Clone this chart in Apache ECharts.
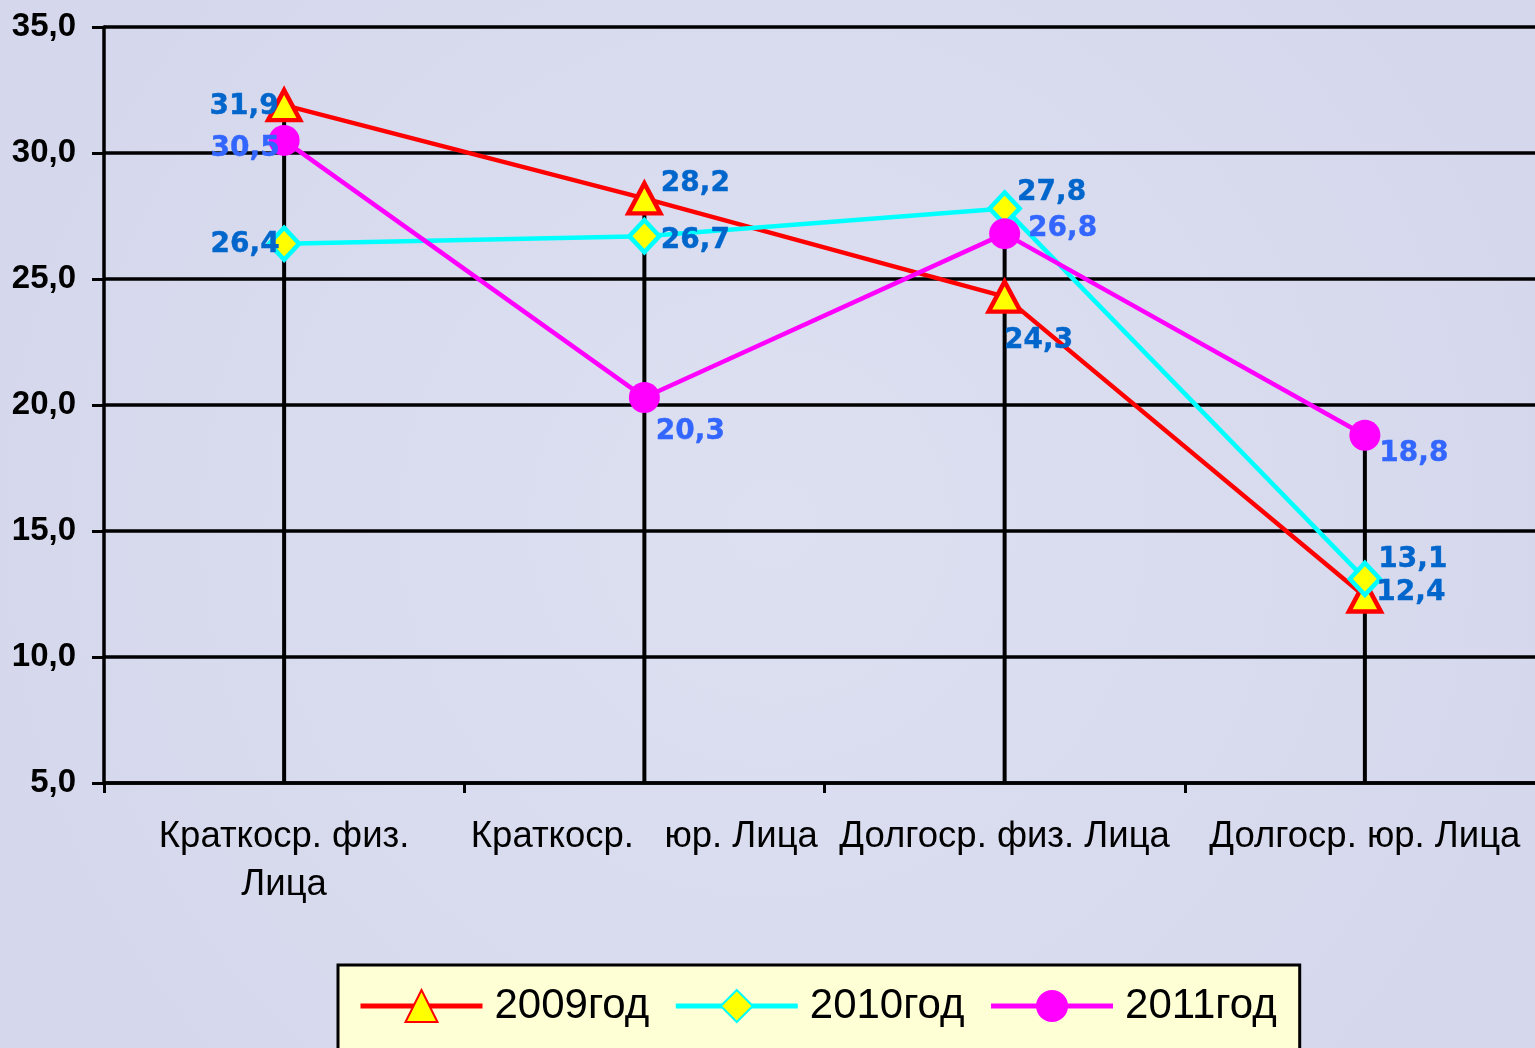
<!DOCTYPE html>
<html>
<head>
<meta charset="utf-8">
<script src="https://cdn.jsdelivr.net/npm/echarts@6/dist/echarts.min.js"></script>
<style>
html,body{margin:0;padding:0;background:#d9dcef;overflow:hidden;}
#c{width:1545px;height:1048px;}
</style>
</head>
<body>
<div id="c"></div>
<script>
const categories = ['Краткоср. физ.\nЛица', 'Краткоср.   юр. Лица', 'Долгоср. физ. Лица', 'Долгоср. юр. Лица'];
const seriesNames = ['2009год', '2010год', '2011год'];
const values2009 = [31.9, 28.2, 24.3, 12.4];
const values2010 = [26.4, 26.7, 27.8, 13.1];
const values2011 = [30.5, 20.3, 26.8, 18.8];
const yMin = 5, yMax = 35, yStep = 5;

// label placement (styling, not data)
const offsets2009 = [[-40, 2], [51, -15], [34, 44], [46, -4]];
const offsets2010 = [[-39, 1], [51, 5], [47, -16], [48, -19]];
const offsets2011 = [[-39, 8], [46, 34], [58, -5], [49, 18]];

const fmt = v => v.toFixed(1).replace('.', ',');
const dropTops = categories.map((c, i) => Math.max(values2009[i], values2010[i], values2011[i]));

function withLabels(vals, offs, color) {
  return vals.map((v, i) => ({
    value: v,
    label: { show: true, position: 'inside', offset: offs[i], color: color,
      textBorderColor: color, textBorderWidth: 0.4,
      fontFamily: 'DejaVu Sans', fontWeight: 'bold', fontSize: 28, formatter: p => fmt(p.value) }
  }));
}

const chart = echarts.init(document.getElementById('c'));
chart.setOption({
  backgroundColor: {
    type: 'radial', x: 0.5, y: 0.5, r: 0.8,
    colorStops: [{ offset: 0, color: '#dde0f1' }, { offset: 1, color: '#d5d8ec' }]
  },
  animation: false,
  grid: { left: 104, right: 0, top: 27, bottom: 265, containLabel: false },
  legend: {
    data: seriesNames,
    left: 338, top: 965,
    padding: [20, 23, 60, 20],
    backgroundColor: '#ffffd6',
    borderColor: '#000', borderWidth: 3,
    itemWidth: 122, itemHeight: 40, itemGap: 24,
    lineStyle: { width: 5 },
    textStyle: { fontFamily: 'Liberation Sans', fontSize: 42, color: '#000', padding: [0, 0, 0, 7] }
  },
  xAxis: {
    type: 'category',
    data: categories,
    boundaryGap: true,
    axisLine: { lineStyle: { color: '#000', width: 3.5 } },
    axisTick: { show: true, length: 10, lineStyle: { color: '#000', width: 3 } },
    axisLabel: { interval: 0, margin: 30, fontFamily: 'Liberation Sans', fontSize: 36.5, color: '#000', lineHeight: 48 },
    splitLine: { show: false }
  },
  yAxis: {
    type: 'value', min: yMin, max: yMax, interval: yStep,
    axisLine: { show: true, lineStyle: { color: '#000', width: 3.5 } },
    axisTick: { show: true, length: 12, lineStyle: { color: '#000', width: 3 } },
    axisLabel: { margin: 28, fontFamily: 'Liberation Sans', fontWeight: 'bold', fontSize: 33, color: '#000', formatter: v => fmt(v) },
    splitLine: { show: true, lineStyle: { color: '#000', width: 3.5 } }
  },
  series: [
    {
      type: 'custom', name: 'drop', z: 1, silent: true,
      data: dropTops.map((v, i) => [i, v]),
      renderItem: (params, api) => {
        const top = api.coord([api.value(0), api.value(1)]);
        const bot = api.coord([api.value(0), yMin]);
        return { type: 'line', shape: { x1: top[0], y1: top[1], x2: bot[0], y2: bot[1] },
          style: { stroke: '#000', lineWidth: 4 } };
      }
    },
    {
      name: seriesNames[0], type: 'line', z: 3,
      data: withLabels(values2009, offsets2009, '#0066cc'),
      symbol: 'triangle', symbolSize: [32, 30],
      lineStyle: { color: '#ff0000', width: 4.5 },
      itemStyle: { color: '#ffff00', borderColor: '#ff0000', borderWidth: 4.5 }
    },
    {
      name: seriesNames[1], type: 'line', z: 3,
      data: withLabels(values2010, offsets2010, '#0066cc'),
      symbol: 'diamond', symbolSize: [30, 32],
      lineStyle: { color: '#00ffff', width: 4.5 },
      itemStyle: { color: '#ffff00', borderColor: '#00ffff', borderWidth: 4.5 }
    },
    {
      name: seriesNames[2], type: 'line', z: 3,
      data: withLabels(values2011, offsets2011, '#3366ff'),
      symbol: 'circle', symbolSize: 31,
      lineStyle: { color: '#ff00ff', width: 4.5 },
      itemStyle: { color: '#ff00ff', borderColor: '#ff00ff', borderWidth: 0 }
    }
  ]
});
</script>
</body>
</html>
